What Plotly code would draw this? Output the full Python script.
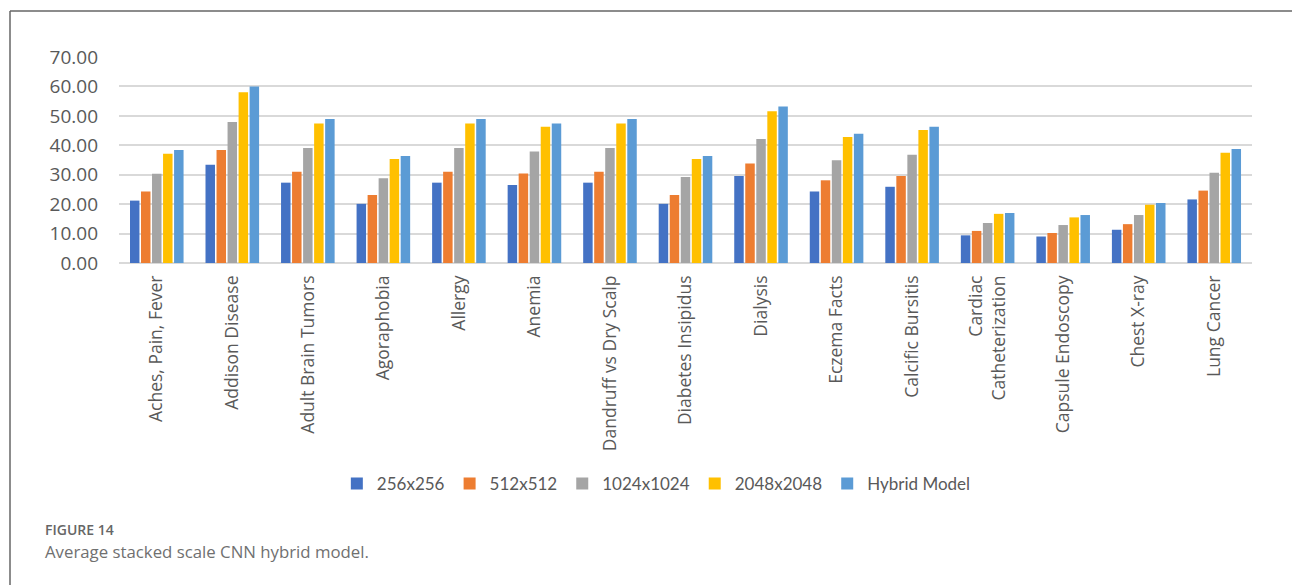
import plotly.graph_objects as go

W, H = 1292, 585

categories = [
    "Aches, Pain, Fever", "Addison Disease", "Adult Brain Tumors", "Agoraphobia",
    "Allergy", "Anemia", "Dandruff vs Dry Scalp", "Diabetes Insipidus", "Dialysis",
    "Eczema Facts", "Calcific Bursitis", "Cardiac<br>Catheterization",
    "Capsule Endoscopy", "Chest X-ray", "Lung Cancer",
]

res_256 = [21.2, 33.4, 27.3, 20.1, 27.3, 26.5, 27.3, 20.1, 29.6, 24.3, 25.9, 9.4, 9.0, 11.3, 21.6]
res_512 = [24.3, 38.4, 31.0, 23.1, 31.0, 30.4, 31.0, 23.1, 33.8, 28.1, 29.6, 10.9, 10.2, 13.2, 24.6]
res_1024 = [30.3, 47.9, 39.1, 28.8, 39.1, 37.9, 39.1, 29.2, 42.1, 34.9, 36.8, 13.6, 12.9, 16.3, 30.7]
res_2048 = [37.1, 58.0, 47.4, 35.3, 47.4, 46.3, 47.4, 35.3, 51.6, 42.8, 45.2, 16.7, 15.5, 19.8, 37.5]
hybrid = [38.4, 60.0, 48.9, 36.4, 48.9, 47.4, 48.9, 36.4, 53.2, 43.9, 46.3, 17.0, 16.3, 20.4, 38.7]

series = [
    ("256x256", res_256, "#4472C4"),
    ("512x512", res_512, "#ED7D31"),
    ("1024x1024", res_1024, "#A5A5A5"),
    ("2048x2048", res_2048, "#FFC000"),
    ("Hybrid Model", hybrid, "#5B9BD5"),
]

y_ticks = [0, 10, 20, 30, 40, 50, 60, 70]

fig = go.Figure()
for name, vals, color in series:
    fig.add_trace(go.Bar(x=categories, y=vals, name=name, marker_color=color,
                         marker_line_width=0))

# pixel helpers for a zero-margin layout
def px_x(p):
    return p / W

def px_y(p):
    return 1 - p / H

fig.update_layout(
    width=W, height=H, autosize=False,
    margin=dict(l=0, r=0, t=0, b=0),
    paper_bgcolor="white", plot_bgcolor="white",
    barmode="group", bargap=0.27, bargroupgap=0.14,
    font=dict(family="Open Sans", color="#595959"),
    xaxis=dict(
        domain=[px_x(119), px_x(1252)], automargin=False,
        tickangle=-90, tickfont=dict(size=17.5, family="Open Sans", color="#595959"),
        showline=False, showgrid=False, ticks="", ticklabelstandoff=8,
    ),
    yaxis=dict(
        domain=[px_y(263), px_y(57)], automargin=False,
        range=[0, 70], tickvals=y_ticks, tickformat=".2f",
        tickfont=dict(size=19, family="Open Sans", color="#595959"),
        showgrid=True, gridcolor="#D9D9D9", gridwidth=1.5,
        zeroline=True, zerolinecolor="#D9D9D9", zerolinewidth=1.5,
        showline=False, ticks="", ticklabelstandoff=20,
    ),
    legend=dict(
        orientation="h", x=0.508, xanchor="center", y=px_y(484), yanchor="middle",
        font=dict(size=17, family="Lato", color="#595959"),
        itemwidth=30, traceorder="normal",
    ),
    shapes=[
        dict(type="line", xref="paper", yref="paper", x0=px_x(10), x1=1,
             y0=px_y(11), y1=px_y(11), line=dict(color="#666666", width=1.5)),
        dict(type="line", xref="paper", yref="paper", x0=px_x(10), x1=px_x(10),
             y0=px_y(11), y1=0, line=dict(color="#666666", width=1.5)),
    ],
    annotations=[
        dict(text="FIGURE 14", xref="paper", yref="paper", x=px_x(43), y=px_y(529.5),
             xanchor="left", yanchor="middle", showarrow=False,
             font=dict(size=14, family="Open Sans", weight=600, color="#666666")),
        dict(text="Average stacked scale CNN hybrid model.", xref="paper", yref="paper",
             x=px_x(43), y=px_y(551), xanchor="left", yanchor="middle", showarrow=False,
             font=dict(size=16.8, family="Open Sans", color="#707070")),
    ],
)

fig.write_html("out.html")
